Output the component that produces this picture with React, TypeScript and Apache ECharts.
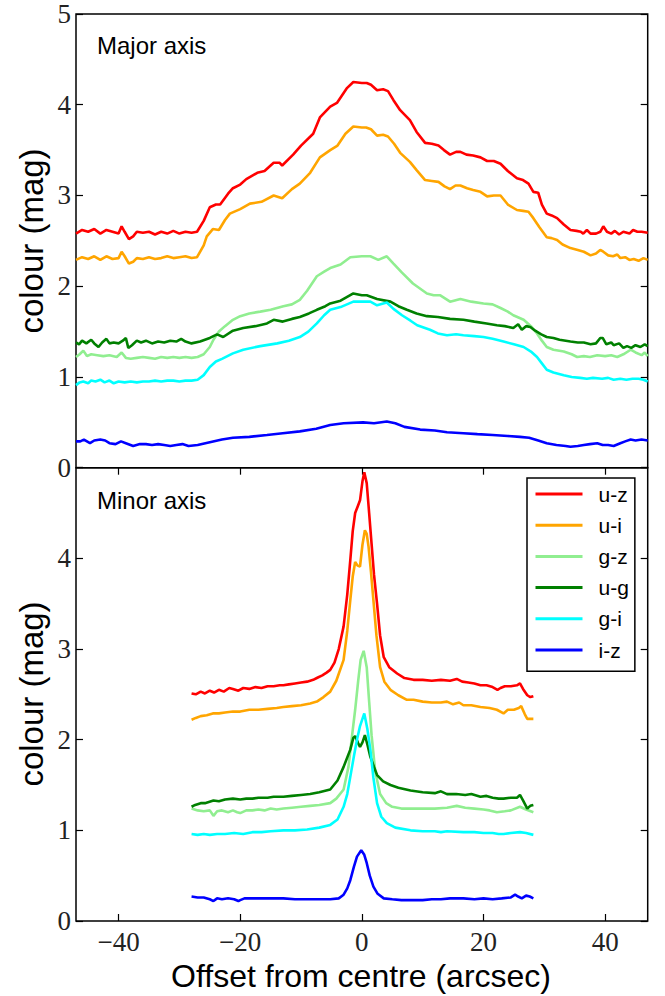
import React, { useEffect, useRef } from 'react';
import * as echarts from 'echarts';

// ---------- data ----------
const xTicks = [-40, -20, 0, 20, 40];
const yTicks = [0, 1, 2, 3, 4, 5];
const seriesNames = ['u-z', 'u-i', 'g-z', 'u-g', 'g-i', 'i-z'];
const seriesColors = ['#ff0000', '#ffa500', '#90ee90', '#008000', '#00ffff', '#0000ff'];

// Major axis profiles [offset arcsec, colour mag]
const majorUZ = [[-47,2.58],[-46,2.62],[-45,2.6],[-44,2.63],[-43,2.58],[-42,2.62],[-41,2.6],[-40,2.58],[-39.5,2.66],[-39,2.6],[-38.3,2.52],[-37.6,2.55],[-37,2.6],[-36,2.59],[-35,2.6],[-34,2.57],[-33,2.6],[-32,2.58],[-31,2.61],[-30,2.58],[-29,2.6],[-28,2.59],[-27.1,2.6],[-26,2.72],[-25,2.87],[-24,2.9],[-23.3,2.9],[-22,3.02],[-21.2,3.08],[-20,3.12],[-19,3.18],[-17.2,3.25],[-16,3.27],[-14.5,3.36],[-13.5,3.36],[-13.1,3.33],[-11.3,3.45],[-10,3.55],[-8,3.68],[-6.9,3.86],[-5.2,3.98],[-4.1,4.02],[-2.5,4.18],[-1.4,4.25],[0,4.24],[0.8,4.24],[1.5,4.22],[2.5,4.16],[3.5,4.17],[4.3,4.15],[5.2,4.05],[6.3,3.94],[7.9,3.83],[9,3.7],[10.4,3.58],[11.5,3.57],[12.6,3.55],[13.5,3.5],[14.5,3.45],[15.5,3.48],[16.2,3.48],[17.2,3.45],[18.3,3.44],[19.5,3.42],[20.6,3.38],[21.7,3.38],[22.8,3.35],[24,3.27],[25.5,3.19],[26.5,3.17],[27.4,3.13],[28.2,3.04],[29,3.03],[29.6,2.9],[30.4,2.8],[31.2,2.78],[32.1,2.75],[33.2,2.68],[34.3,2.62],[35.3,2.61],[36,2.6],[36.4,2.58],[37,2.62],[37.6,2.58],[38.5,2.58],[39.2,2.6],[39.7,2.66],[40.3,2.6],[41,2.58],[41.6,2.61],[42.3,2.57],[43,2.6],[44,2.58],[44.6,2.62],[45.3,2.6],[46,2.6],[47,2.59]];
const majorUI = [[-47,2.29],[-46,2.32],[-45,2.3],[-44,2.33],[-43,2.29],[-42,2.33],[-41,2.3],[-40,2.31],[-39.5,2.38],[-39,2.33],[-38.3,2.25],[-37.6,2.27],[-37,2.31],[-36,2.3],[-35,2.32],[-34,2.3],[-33,2.31],[-32,2.33],[-31,2.31],[-30,2.32],[-29,2.33],[-28,2.31],[-27.1,2.32],[-26,2.45],[-25.5,2.55],[-24.5,2.63],[-23.5,2.62],[-22.5,2.73],[-21.7,2.8],[-20,2.85],[-18.4,2.91],[-16.5,2.93],[-14.5,3.0],[-13.1,2.97],[-11.5,3.07],[-10.2,3.13],[-8.5,3.25],[-6.9,3.42],[-5.2,3.5],[-4,3.55],[-2.7,3.68],[-1.4,3.76],[0,3.75],[0.7,3.75],[1.5,3.73],[2.5,3.66],[3.5,3.67],[4.3,3.65],[5.3,3.57],[6.3,3.47],[7.9,3.37],[9,3.28],[10.4,3.17],[11.5,3.16],[12.6,3.15],[13.6,3.1],[14.5,3.07],[15.4,3.11],[16.2,3.11],[17.3,3.08],[18.3,3.06],[19.5,3.04],[20.6,2.99],[21.7,3.0],[22.8,3.0],[24,2.9],[25.5,2.84],[26.5,2.83],[27.4,2.82],[28.2,2.75],[29.2,2.65],[30.4,2.54],[31.2,2.53],[32.1,2.51],[33,2.46],[34.3,2.42],[35.5,2.4],[36.5,2.38],[37.6,2.34],[38.5,2.36],[39.2,2.4],[39.7,2.38],[40.5,2.34],[41.3,2.33],[42,2.35],[42.5,2.31],[43.3,2.32],[44,2.29],[44.7,2.3],[45.5,2.28],[46.3,2.31],[47,2.29]];
const majorGZ = [[-47,1.22],[-46.4,1.25],[-45.8,1.29],[-45.2,1.23],[-44.5,1.25],[-43.5,1.24],[-42.5,1.23],[-41.5,1.24],[-40.3,1.22],[-39.5,1.27],[-38.8,1.21],[-38,1.2],[-37,1.21],[-36,1.22],[-35,1.21],[-34,1.2],[-33,1.22],[-32,1.21],[-31,1.22],[-30,1.21],[-29,1.22],[-28,1.21],[-27,1.22],[-26,1.25],[-25,1.33],[-24.4,1.41],[-23.5,1.5],[-22.5,1.56],[-21.2,1.63],[-20,1.67],[-18.5,1.7],[-16.7,1.72],[-15,1.74],[-12.9,1.78],[-11.5,1.8],[-10.2,1.85],[-9,1.95],[-7.4,2.11],[-6.2,2.16],[-5.2,2.2],[-3.5,2.24],[-1.9,2.32],[0,2.33],[1.4,2.33],[2.7,2.29],[4.1,2.33],[5.2,2.25],[6.6,2.15],[8.4,2.03],[10.7,1.92],[11.8,1.9],[12.9,1.9],[14.5,1.83],[16.2,1.86],[18,1.83],[20,1.81],[21.5,1.8],[22.8,1.76],[24,1.72],[24.9,1.68],[26.6,1.63],[27.8,1.56],[28.8,1.48],[29.6,1.4],[30.4,1.33],[31.5,1.3],[33.2,1.28],[34.5,1.25],[35.4,1.22],[36.5,1.23],[37.5,1.22],[38.7,1.24],[40,1.23],[41,1.24],[42,1.22],[43,1.25],[44.2,1.3],[45,1.27],[46,1.24],[46.5,1.27],[47,1.23]];
const majorUG = [[-47,1.38],[-46.5,1.36],[-46,1.4],[-45.3,1.37],[-44.5,1.41],[-44,1.37],[-43.3,1.33],[-42.7,1.38],[-42,1.42],[-41.5,1.37],[-40.8,1.38],[-40,1.37],[-39.3,1.4],[-38.8,1.43],[-38.4,1.32],[-37.8,1.35],[-37,1.4],[-36.3,1.38],[-35.5,1.4],[-34.5,1.37],[-33.5,1.39],[-32.5,1.38],[-31.5,1.4],[-30.5,1.39],[-29.7,1.42],[-29,1.39],[-28,1.37],[-26.6,1.39],[-25,1.43],[-23.8,1.47],[-22.8,1.44],[-21.2,1.51],[-19.5,1.54],[-17.5,1.56],[-15.6,1.59],[-14.5,1.63],[-13,1.61],[-11.5,1.64],[-10.2,1.66],[-8.7,1.7],[-7.4,1.74],[-6,1.78],[-5.2,1.81],[-3.5,1.84],[-1.4,1.92],[0,1.9],[0.8,1.9],[2.5,1.86],[4.7,1.83],[6,1.78],[7.4,1.74],[9,1.7],[10.7,1.67],[12.5,1.66],[14.5,1.64],[16.7,1.63],[18.5,1.61],[20.5,1.59],[22.2,1.57],[23.5,1.56],[24.9,1.54],[25.7,1.58],[26.3,1.52],[27,1.56],[27.7,1.55],[28.5,1.51],[29.5,1.47],[30.4,1.44],[31.5,1.43],[32.5,1.41],[34.3,1.39],[35.5,1.38],[36.5,1.38],[37.6,1.36],[38.5,1.37],[39.2,1.43],[39.6,1.43],[40.2,1.36],[41,1.38],[41.4,1.35],[42.3,1.37],[43,1.32],[43.6,1.34],[44.3,1.32],[45,1.35],[45.8,1.33],[46.5,1.36],[47,1.34]];
const majorGI = [[-47,0.91],[-46.4,0.94],[-45.8,0.95],[-45,0.93],[-44.5,0.96],[-43.8,0.95],[-43,0.97],[-42.3,0.94],[-41.5,0.96],[-40.8,0.93],[-40,0.95],[-39,0.94],[-38,0.95],[-37,0.94],[-36,0.95],[-35,0.95],[-34,0.96],[-33,0.95],[-32,0.96],[-31,0.96],[-30,0.95],[-29,0.96],[-28,0.96],[-27,0.97],[-26,1.02],[-25,1.11],[-24,1.17],[-23,1.2],[-21.2,1.26],[-19.5,1.3],[-16.7,1.34],[-13.9,1.37],[-12,1.4],[-10.2,1.44],[-8.8,1.5],[-7.4,1.59],[-6.2,1.68],[-5.2,1.74],[-3.5,1.77],[-1.4,1.83],[0,1.83],[1.4,1.83],[2.5,1.79],[4.1,1.82],[5.2,1.75],[6.6,1.68],[8,1.62],[9.1,1.57],[11.2,1.52],[12.5,1.48],[14,1.46],[15.5,1.47],[16.7,1.46],[18.5,1.45],[20,1.44],[21.5,1.42],[23.3,1.39],[25,1.36],[26.6,1.33],[27.8,1.28],[28.8,1.22],[29.6,1.15],[30.4,1.08],[31.5,1.05],[33.2,1.02],[34.5,1.0],[35.9,0.99],[37,0.98],[38,0.99],[39.5,0.98],[40.5,0.99],[41.4,0.97],[42.5,0.98],[43.5,0.97],[44.5,0.98],[45.5,0.98],[46.3,0.97],[47,0.95]];
const majorIZ = [[-47,0.29],[-46.3,0.29],[-45.7,0.31],[-44.7,0.27],[-44,0.3],[-43,0.31],[-42.2,0.3],[-41.5,0.27],[-40.5,0.26],[-39.6,0.29],[-38.8,0.27],[-37.6,0.24],[-36.5,0.26],[-35.5,0.26],[-34.5,0.25],[-33.5,0.26],[-32.5,0.25],[-31.5,0.24],[-30.5,0.25],[-29.5,0.26],[-28.5,0.24],[-27,0.25],[-25,0.28],[-23,0.31],[-21.2,0.33],[-18.5,0.34],[-15.6,0.36],[-13,0.38],[-10.2,0.4],[-7.5,0.43],[-5.2,0.47],[-3,0.49],[0.2,0.5],[2,0.49],[4.1,0.51],[5.5,0.49],[7,0.45],[9.6,0.42],[12,0.41],[14,0.39],[16.7,0.38],[19,0.37],[21.5,0.36],[24,0.35],[26,0.34],[27.5,0.33],[29,0.3],[30.4,0.27],[32,0.25],[33.5,0.24],[34.3,0.23],[35.5,0.24],[36.5,0.25],[37.5,0.26],[38.7,0.27],[39.6,0.25],[40.5,0.25],[41.4,0.24],[42.5,0.27],[43.3,0.29],[44.2,0.31],[45,0.3],[46,0.31],[47,0.3]];

// Minor axis profiles [offset arcsec, colour mag]
const minorUZ = [[-28,2.51],[-27.3,2.5],[-26.5,2.53],[-25.8,2.51],[-25,2.54],[-24.3,2.52],[-23.5,2.55],[-22.7,2.53],[-21.8,2.57],[-21.2,2.56],[-20.3,2.54],[-19.5,2.57],[-18.5,2.56],[-17.5,2.58],[-16.5,2.57],[-15.5,2.59],[-14.5,2.59],[-13.5,2.6],[-12.9,2.6],[-12,2.61],[-11,2.62],[-10,2.63],[-9,2.64],[-8,2.66],[-7.4,2.68],[-6.5,2.71],[-5.8,2.74],[-5.2,2.77],[-4.5,2.85],[-3.8,3.0],[-3.0,3.25],[-2.4,3.6],[-1.9,3.98],[-1.5,4.3],[-1.1,4.5],[-0.7,4.57],[-0.3,4.64],[0.1,4.85],[0.4,4.95],[0.8,4.83],[1.2,4.5],[1.6,4.16],[2.0,3.82],[2.5,3.5],[3.0,3.15],[3.6,2.91],[4.5,2.8],[5.8,2.73],[7,2.68],[8.5,2.66],[10,2.66],[11.5,2.65],[13,2.66],[14.5,2.65],[15.6,2.67],[16.5,2.64],[17.5,2.63],[18.5,2.62],[19.5,2.6],[20.5,2.6],[21.5,2.58],[22.3,2.55],[22.8,2.57],[23.5,2.59],[24.5,2.59],[25.5,2.6],[26,2.62],[26.5,2.56],[27.2,2.49],[27.7,2.47],[28.2,2.48]];
const minorUI = [[-28,2.22],[-27.3,2.24],[-26.5,2.26],[-25.5,2.27],[-24.5,2.29],[-23.5,2.29],[-22.5,2.3],[-21.2,2.31],[-20,2.31],[-18.5,2.33],[-17,2.33],[-15.5,2.34],[-14,2.35],[-12.9,2.36],[-11.5,2.37],[-10,2.38],[-8.5,2.4],[-7.4,2.42],[-6.3,2.47],[-5.2,2.53],[-4.2,2.65],[-3.0,2.88],[-2.4,3.2],[-1.9,3.54],[-1.5,3.8],[-1.1,3.96],[-0.7,3.92],[-0.3,3.91],[0.1,4.15],[0.5,4.31],[0.8,4.27],[1.1,4.13],[1.5,3.85],[1.9,3.54],[2.4,3.15],[3.0,2.8],[3.7,2.64],[4.7,2.55],[6,2.49],[7.4,2.44],[8.5,2.44],[10,2.42],[11.5,2.41],[13,2.41],[14,2.42],[15,2.39],[16,2.41],[16.7,2.38],[18,2.38],[19.5,2.36],[21,2.35],[22.2,2.33],[23.3,2.29],[24,2.33],[25,2.33],[25.8,2.35],[26.2,2.37],[26.8,2.28],[27.2,2.23],[28.2,2.23]];
const minorGZ = [[-28,1.24],[-27,1.22],[-26,1.21],[-25,1.22],[-24.4,1.16],[-23.8,1.21],[-23,1.22],[-22,1.2],[-21.2,1.22],[-20.5,1.2],[-20,1.19],[-19,1.22],[-18,1.22],[-17,1.23],[-16,1.22],[-15,1.24],[-14,1.23],[-12.9,1.24],[-11.5,1.25],[-10,1.26],[-8.5,1.27],[-7,1.28],[-5.2,1.3],[-4.2,1.35],[-3,1.45],[-2.2,1.7],[-1.6,2.05],[-1.1,2.33],[-0.6,2.65],[-0.2,2.88],[0.3,2.98],[0.8,2.8],[1.2,2.42],[1.6,2.05],[2.2,1.65],[3.0,1.4],[4,1.3],[5,1.26],[6.5,1.24],[8,1.24],[10,1.24],[12,1.24],[14,1.25],[15.6,1.27],[17,1.25],[18.5,1.24],[20,1.23],[21,1.22],[22.2,1.2],[23.5,1.21],[24.5,1.22],[26,1.26],[27,1.23],[28.2,1.2]];
const minorUG = [[-28,1.26],[-27.4,1.28],[-26.5,1.3],[-25.8,1.3],[-24.4,1.33],[-23.5,1.32],[-22.5,1.34],[-21.2,1.35],[-20,1.34],[-19,1.35],[-18,1.35],[-17,1.36],[-15.5,1.36],[-14.5,1.37],[-12.9,1.37],[-11.5,1.38],[-10,1.39],[-8.5,1.4],[-7,1.42],[-5.2,1.45],[-4,1.55],[-3,1.7],[-1.9,1.89],[-1.4,2.02],[-1.1,2.04],[-0.6,1.96],[-0.3,1.92],[0.1,1.97],[0.5,2.05],[0.9,1.95],[1.4,1.81],[2,1.7],[2.5,1.61],[3.5,1.54],[4.7,1.5],[6,1.47],[8,1.44],[10,1.42],[12,1.41],[13,1.43],[14,1.4],[15.5,1.4],[17,1.39],[18,1.4],[19.5,1.37],[20.5,1.38],[21.5,1.36],[22.5,1.35],[23.3,1.35],[24.5,1.36],[25.5,1.36],[26,1.39],[26.5,1.33],[27.2,1.24],[27.7,1.27],[28.2,1.28]];
const minorGI = [[-28,0.96],[-27,0.95],[-26,0.96],[-25,0.95],[-23.8,0.96],[-22.5,0.96],[-21,0.97],[-19.5,0.96],[-18,0.98],[-16.5,0.98],[-15,0.99],[-12.9,1.0],[-11,1.0],[-9,1.01],[-7,1.03],[-5.2,1.06],[-4,1.12],[-3,1.26],[-2.4,1.4],[-1.9,1.59],[-1.3,1.82],[-0.8,2.0],[-0.3,2.15],[0.4,2.29],[0.9,2.12],[1.4,1.89],[1.9,1.58],[2.5,1.3],[3.2,1.15],[4.1,1.08],[5.5,1.03],[8,1.0],[10,0.99],[12,0.99],[13,0.98],[14,0.99],[16.7,0.98],[18.5,0.98],[20,0.97],[21.5,0.97],[22.5,0.96],[23.3,0.96],[24.5,0.97],[26,0.98],[27,0.97],[28.2,0.95]];
const minorIZ = [[-28,0.27],[-27,0.26],[-26,0.26],[-25,0.24],[-24.4,0.22],[-23.8,0.25],[-23,0.24],[-22,0.25],[-21,0.24],[-20.3,0.22],[-20,0.23],[-19.3,0.25],[-18,0.25],[-16.5,0.25],[-15,0.25],[-12.9,0.25],[-11,0.24],[-9,0.24],[-7,0.24],[-5.2,0.24],[-3.8,0.25],[-3,0.29],[-2.4,0.36],[-1.9,0.45],[-1.3,0.6],[-0.8,0.71],[-0.1,0.78],[0.4,0.73],[0.8,0.64],[1.3,0.5],[1.9,0.38],[2.6,0.3],[3.6,0.25],[5,0.24],[6.5,0.23],[8,0.23],[10,0.23],[11.5,0.24],[13,0.24],[14.5,0.25],[16.7,0.25],[18.5,0.24],[20,0.25],[21.5,0.24],[23,0.25],[24.5,0.26],[25.2,0.29],[25.7,0.27],[26.3,0.25],[27,0.28],[27.6,0.27],[28.2,0.25]];

const majorData = [majorUZ, majorUI, majorGZ, majorUG, majorGI, majorIZ];
const minorData = [minorUZ, minorUI, minorGZ, minorUG, minorGI, minorIZ];

// ---------- styling ----------
const SANS = '"Liberation Sans", Arial, sans-serif';
const SERIF = '"Liberation Serif", "Times New Roman", serif';
const XMIN = -47, XMAX = 47, YMIN = 0, YMAX = 5;
const fmtNum = (v: number) => (v < 0 ? '\u2212' + Math.abs(v) : String(v));

const tickStyle = { show: true, inside: true, length: 7, lineStyle: { color: '#000', width: 1.2 } };
const tickLabel = { fontFamily: SERIF, fontSize: 27, color: '#222' };
const noLine = { show: false, onZero: false };

export default function App() {
  const ref = useRef<HTMLDivElement>(null);
  useEffect(() => {
    const chart = echarts.init(ref.current!, null, { renderer: 'svg' });
    const makeSeries = (data: number[][][], xi: number, yi: number) =>
      data.map((d, i) => ({
        name: seriesNames[i],
        type: 'line',
        xAxisIndex: xi,
        yAxisIndex: yi,
        data: d,
        symbol: 'none',
        smooth: false,
        lineStyle: { color: seriesColors[i], width: 2.6 },
        itemStyle: { color: seriesColors[i] },
        z: 2 + i,
      }));
    const option: any = {
      animation: false,
      backgroundColor: '#fff',
      grid: [
        { left: 76, top: 14, width: 571.7, height: 453.7, show: true, borderColor: '#000', borderWidth: 1.5, backgroundColor: 'transparent', outerBoundsMode: 'none', containLabel: false },
        { left: 76, top: 467.7, width: 571.7, height: 453.3, show: true, borderColor: '#000', borderWidth: 1.5, backgroundColor: 'transparent', outerBoundsMode: 'none', containLabel: false },
      ],
      xAxis: [
        { type: 'value', gridIndex: 0, min: XMIN, max: XMAX, show: false, axisLine: noLine, splitLine: { show: false } },
        {
          type: 'value', gridIndex: 1, position: 'bottom', min: XMIN, max: XMAX,
          axisLine: noLine, splitLine: { show: false },
          axisTick: { ...tickStyle, customValues: xTicks },
          axisLabel: { ...tickLabel, margin: 7, customValues: xTicks, formatter: fmtNum },
        },
        {
          type: 'value', gridIndex: 1, position: 'top', min: XMIN, max: XMAX,
          axisLine: noLine, splitLine: { show: false },
          axisTick: { ...tickStyle, customValues: xTicks },
          axisLabel: { show: false },
        },
      ],
      yAxis: [
        {
          type: 'value', gridIndex: 0, position: 'left', min: YMIN, max: YMAX,
          axisLine: noLine, splitLine: { show: false },
          axisTick: { ...tickStyle, customValues: yTicks },
          axisLabel: { ...tickLabel, margin: 5, customValues: yTicks, formatter: fmtNum },
        },
        {
          type: 'value', gridIndex: 0, position: 'right', min: YMIN, max: YMAX,
          axisLine: noLine, splitLine: { show: false },
          axisTick: { ...tickStyle, customValues: yTicks },
          axisLabel: { show: false },
        },
        {
          type: 'value', gridIndex: 1, position: 'left', min: YMIN, max: YMAX,
          axisLine: noLine, splitLine: { show: false },
          axisTick: { ...tickStyle, customValues: yTicks },
          axisLabel: { ...tickLabel, margin: 5, customValues: yTicks.filter((v) => v < YMAX), formatter: fmtNum },
        },
        {
          type: 'value', gridIndex: 1, position: 'right', min: YMIN, max: YMAX,
          axisLine: noLine, splitLine: { show: false },
          axisTick: { ...tickStyle, customValues: yTicks },
          axisLabel: { show: false },
        },
      ],
      legend: {
        show: true,
        orient: 'vertical',
        left: 527,
        top: 478,
        data: seriesNames,
        itemWidth: 47,
        itemHeight: 14,
        itemGap: 10.2,
        padding: [5.5, 6, 10.8, 7],
        borderColor: '#000',
        borderWidth: 1.5,
        backgroundColor: '#fff',
        borderRadius: 0,
        selectedMode: false,
        itemStyle: { opacity: 0, borderWidth: 0 },
        lineStyle: { width: 3 },
        textStyle: { fontFamily: SANS, fontSize: 21, color: '#000', padding: [0, 0, 0, 11] },
      },
      graphic: [
        { type: 'text', left: 97, top: 33, style: { text: 'Major axis', fontFamily: SANS, fontSize: 24, fill: '#000' } },
        { type: 'text', left: 97, top: 488, style: { text: 'Minor axis', fontFamily: SANS, fontSize: 24, fill: '#000' } },
        { type: 'text', x: 31, y: 241, rotation: Math.PI / 2, style: { text: 'colour (mag)', fontFamily: SANS, fontSize: 33, fill: '#000', align: 'center', verticalAlign: 'middle' } },
        { type: 'text', x: 31, y: 694, rotation: Math.PI / 2, style: { text: 'colour (mag)', fontFamily: SANS, fontSize: 33, fill: '#000', align: 'center', verticalAlign: 'middle' } },
        { type: 'text', x: 361, y: 976, style: { text: 'Offset from centre (arcsec)', fontFamily: SANS, fontSize: 32, fill: '#000', align: 'center', verticalAlign: 'middle' } },
      ],
      series: [...makeSeries(majorData, 0, 0), ...makeSeries(minorData, 1, 2)],
    };
    chart.setOption(option);
    return () => chart.dispose();
  }, []);
  return (
    <div
      ref={ref}
      style={{ position: 'fixed', left: 0, top: 0, width: 665, height: 996, background: '#fff' }}
    />
  );
}
